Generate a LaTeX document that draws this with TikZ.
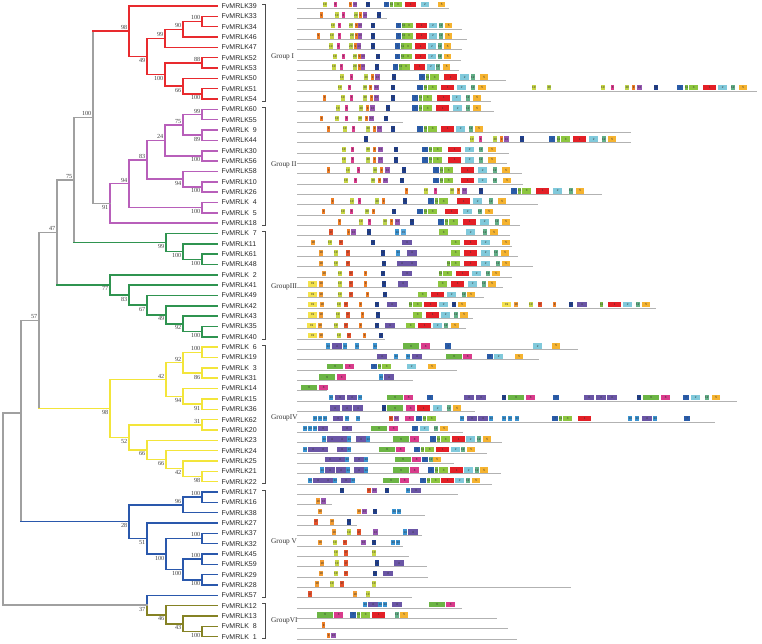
\documentclass[tikz,border=0pt]{standalone}
\usepackage{fontspec}
\setmainfont{Liberation Serif}
\newfontfamily\lsans{Liberation Sans}
\usetikzlibrary{calc}
\definecolor{cI}{HTML}{E82A2E}
\definecolor{cII}{HTML}{B85FBA}
\definecolor{cIII}{HTML}{2F9450}
\definecolor{cIV}{HTML}{F3E53A}
\definecolor{cV}{HTML}{2A58AC}
\definecolor{cVI}{HTML}{858224}
\definecolor{cG}{HTML}{A0A0A0}
\definecolor{mc1}{HTML}{E31F26}
\definecolor{mc2}{HTML}{80C9DB}
\definecolor{mc3}{HTML}{8DC63F}
\definecolor{mc4}{HTML}{6A55A5}
\definecolor{mc5}{HTML}{F5B330}
\definecolor{mc6}{HTML}{6CB545}
\definecolor{mc7}{HTML}{2A5CA9}
\definecolor{mc8}{HTML}{D93B8B}
\definecolor{mc9}{HTML}{EE7D24}
\definecolor{mc10}{HTML}{C7D545}
\definecolor{mc11}{HTML}{7AB843}
\definecolor{mc12}{HTML}{62AE87}
\definecolor{mc13}{HTML}{9556B0}
\definecolor{mc14}{HTML}{3A93D1}
\definecolor{mc15}{HTML}{58A8DC}
\definecolor{mc16}{HTML}{1F3E8C}
\definecolor{mc17}{HTML}{E4502A}
\definecolor{mc18}{HTML}{F29B33}
\definecolor{mc19}{HTML}{F4E24C}
\definecolor{mc20}{HTML}{BCD34C}
\newcommand\defm[4]{\expandafter\def\csname mwX#1\endcsname{#3}\expandafter\def\csname mcX#1\endcsname{#2}\expandafter\def\csname mtX#1\endcsname{#4}}
\defm{1}{mc1}{13}{1}\defm{2}{mc2}{9}{2}\defm{3}{mc3}{9}{3}\defm{4}{mc4}{9.5}{4}
\defm{5}{mc5}{8}{5}\defm{6}{mc6}{16}{6}\defm{7}{mc7}{6}{7}\defm{8}{mc8}{9}{8}
\defm{8s}{mc8}{3}{8}\defm{9}{mc9}{3}{9}\defm{10}{mc10}{3.3}{10}\defm{11}{mc11}{3}{11}
\defm{12}{mc12}{3.3}{12}\defm{13}{mc13}{4.5}{13}\defm{14}{mc14}{4}{14}\defm{15}{mc15}{5}{15}
\defm{16}{mc16}{2.7}{16}\defm{17}{mc17}{3.5}{17}\defm{18}{mc18}{4}{18}\defm{19}{mc19}{9}{19}
\defm{20}{mc20}{4}{20}
% tree node: name, x, upper child, lower child, colour
\newcommand\tn[5]{\path ($(#3)!0.5!(#4)$) coordinate (#1m);
  \coordinate (#1) at (#2,0 |- #1m);
  \draw[br,#5] (#3) -| (#1) |- (#4);}
\newcommand\ba[2]{\node[bs,anchor=south east] (b#1) at ($(#1)+(-1.2,-1)$) {#2};}
\newcommand\bb[2]{\node[bs,anchor=north east] (b#1) at ($(#1)+(-1.2,1.4)$) {#2};}
% motif row: row, line end, width factor, items x/motif
\newcommand\mrow[4]{\pgfmathsetmacro\ry{6+10.34*#1}
  \draw[mline] (297,\ry+2.3) -- (#2,\ry+2.3);
  \foreach \x/\k in {#4}{%
    \edef\mw{\csname mwX\k\endcsname}\edef\mcol{\csname mcX\k\endcsname}\edef\mt{\csname mtX\k\endcsname}%
    \pgfmathsetmacro\w{#3*\mw}%
    \node[mbox,fill=\mcol,minimum width=\w pt,anchor=south west] (m#1-\x) at (\x,\ry+1.7) {\mt};}}
\begin{document}
\begin{tikzpicture}[x=1pt,y=-1pt,
  br/.style={line width=1.5pt,line cap=rect},
  bs/.style={font=\fontsize{6.2}{6.2}\selectfont,inner sep=0.3pt,text=black!75},
  leaf/.style={font=\lsans\fontsize{7}{7}\selectfont,anchor=west,inner sep=0.5pt,text=black!85},
  grp/.style={line width=0.6pt,draw=black!70},
  grpl/.style={font=\fontsize{7.3}{7.3}\selectfont,anchor=west,inner sep=0.5pt,text=black!80},
  mline/.style={line width=0.8pt,draw=black!30},
  mbox/.style={rectangle,draw=none,inner sep=0pt,minimum height=5.5pt,font=\lsans\fontsize{3}{3}\selectfont,text=black!80}]
\useasboundingbox[fill=white] (0,0) rectangle (762,644);
\foreach \i in {0,...,61} \coordinate (l\i) at (217,{6+10.34*\i});
% Group I
\tn{nE}{202}{l1}{l2}{cI}\ba{nE}{100}
\tn{nD}{183}{nE}{l3}{cI}\ba{nD}{90}
\tn{nB}{165}{nD}{l4}{cI}\ba{nB}{99}
\tn{nF}{202}{l5}{l6}{cI}\ba{nF}{88}
\tn{nH}{202}{l8}{l9}{cI}\bb{nH}{100}
\tn{nG}{183}{l7}{nH}{cI}\bb{nG}{66}
\tn{nC}{165}{nF}{nG}{cI}\bb{nC}{100}
\tn{nA}{147}{nB}{nC}{cI}\bb{nA}{49}
\tn{nI}{129}{l0}{nA}{cI}\ba{nI}{98}
% Group II
\tn{q1}{202}{l10}{l11}{cII}\ba{q1}{99}
\tn{q2}{202}{l12}{l13}{cII}\bb{q2}{89}
\tn{q3}{183}{q1}{q2}{cII}\ba{q3}{75}
\tn{q4}{202}{l14}{l15}{cII}\bb{q4}{100}
\tn{q5}{165}{q3}{q4}{cII}\ba{q5}{24}
\tn{q6}{202}{l17}{l18}{cII}\bb{q6}{100}
\tn{q7}{183}{l16}{q6}{cII}\bb{q7}{94}
\tn{q8}{147}{q5}{q7}{cII}\ba{q8}{83}
\tn{q9}{202}{l19}{l20}{cII}\bb{q9}{100}
\tn{q10}{129}{q8}{q9}{cII}\ba{q10}{94}
\tn{nII}{110}{q10}{l21}{cII}\bb{nII}{91}
\tn{n93}{93}{nI}{nII}{cG}\ba{n93}{100}
% Group III
\tn{w1}{202}{l24}{l25}{cIII}\bb{w1}{100}
\tn{w2}{183}{l23}{w1}{cIII}\bb{w2}{100}
\tn{w3}{166}{l22}{w2}{cIII}\bb{w3}{99}
\tn{n74}{74}{n93}{w3}{cG}\ba{n74}{75}
\tn{w4}{202}{l31}{l32}{cIII}\bb{w4}{100}
\tn{w5}{183}{l30}{w4}{cIII}\bb{w5}{92}
\tn{w6}{166}{l29}{w5}{cIII}\bb{w6}{49}
\tn{w7}{147}{l28}{w6}{cIII}\bb{w7}{67}
\tn{w8}{129}{l27}{w7}{cIII}\bb{w8}{83}
\tn{w9}{110}{l26}{w8}{cIII}\bb{w9}{77}
\tn{n57}{57}{n74}{w9}{cG}\ba{n57}{47}
% Group IV
\tn{y1}{202}{l33}{l34}{cIV}\ba{y1}{100}
\tn{y2}{202}{l35}{l36}{cIV}\bb{y2}{86}
\tn{y3}{183}{y1}{y2}{cIV}\ba{y3}{92}
\tn{y4}{202}{l38}{l39}{cIV}\bb{y4}{91}
\tn{y5}{183}{l37}{y4}{cIV}\bb{y5}{94}
\tn{y6}{166}{y3}{y5}{cIV}\ba{y6}{42}
\tn{y7}{202}{l40}{l41}{cIV}\ba{y7}{31}
\tn{y8}{202}{l45}{l46}{cIV}\bb{y8}{98}
\tn{y9}{183}{l44}{y8}{cIV}\bb{y9}{42}
\tn{y10}{166}{l43}{y9}{cIV}\bb{y10}{66}
\tn{y11}{147}{l42}{y10}{cIV}\bb{y11}{66}
\tn{y12}{129}{y7}{y11}{cIV}\bb{y12}{52}
\tn{nIV}{110}{y6}{y12}{cIV}\bb{nIV}{98}
\tn{n39}{39}{n57}{nIV}{cG}\ba{n39}{57}
% Group V
\tn{v1}{202}{l47}{l48}{cV}\ba{v1}{100}
\tn{v2}{183}{v1}{l49}{cV}\ba{v2}{96}
\tn{v3}{202}{l51}{l52}{cV}\ba{v3}{100}
\tn{v4}{202}{l53}{l54}{cV}\ba{v4}{100}
\tn{v5}{202}{l55}{l56}{cV}\bb{v5}{100}
\tn{v6}{183}{v4}{v5}{cV}\bb{v6}{100}
\tn{v7}{166}{v3}{v6}{cV}\bb{v7}{100}
\tn{v8}{147}{l50}{v7}{cV}\bb{v8}{51}
\tn{nV}{129}{v2}{v8}{cV}\bb{nV}{28}
\coordinate (n21) at (21,413);
\draw[br,cG] (n39) -| (n21) |- (nV);
% Group VI
\tn{s1}{202}{l60}{l61}{cVI}\bb{s1}{100}
\tn{s2}{183}{l59}{s1}{cVI}\bb{s2}{43}
\tn{s3}{166}{l58}{s2}{cVI}\bb{s3}{46}
\path ($(l57)!0.5!(s3)$) coordinate (n37m);
\coordinate (n37) at (147,0 |- n37m);
\draw[br,cV] (l57) -| (n37);
\draw[br,cVI] (n37) |- (s3);
\bb{n37}{37}
\path ($(n21)!0.5!(n37)$) coordinate (rootm);
\coordinate (root) at (3,0 |- rootm);
\draw[br,cG] (n21) -| (root) |- (n37);
% coloured stems of the groups
\draw[br,cI] (n93 |- nI) -- (nI);
\draw[br,cIII] (n74 |- w3) -- (w3);
\draw[br,cIII] (n57 |- w9) -- (w9);
\draw[br,cIV] (n39 |- nIV) -- (nIV);
\draw[br,cV] (n21 |- nV) -- (nV);
% leaf labels
\foreach \n [count=\i from 0] in {39,33,34,46,47,52,53,50,51,54,60,55,\phantom{0}9,44,30,56,58,10,26,\phantom{0}4,\phantom{0}5,18,\phantom{0}7,11,61,48,\phantom{0}2,41,49,42,43,35,40,\phantom{0}6,19,\phantom{0}3,31,14,15,36,62,20,23,24,25,21,22,17,16,38,27,37,32,45,59,29,28,57,12,13,\phantom{0}8,\phantom{0}1}
  \node[leaf] (t\i) at ($(l\i)+(4,0)$) {FvMRLK\n};
% group brackets
\foreach \a/\b/\yl/\g [count=\j] in {0/9/57/Group I,10/21/165/Group II,22/32/287/GroupIII,33/46/418/GroupIV,47/57/542/Group V,58/61/621/GroupVI}{
  \draw[grp] ($(l\a)+(45,-2)$) -- ($(l\a)+(48,-2)$) -- ($(l\b)+(48,2)$) -- ($(l\b)+(45,2)$);
  \node[grpl] (g\j) at (270.5,\yl) {\g};}
% motifs
\mrow{0}{449}{.85}{323/10,334/8s,349/9,353/13,366/16,384/7,390/11,394/3,405/1,421/2,438/5}
\mrow{1}{387}{.85}{320/9,335/10,342/8s,354/20,359/9,363/13,377/16}
\mrow{2}{462}{.85}{331/10,338/8s,349/20,355/9,358/13,371/16,396/7,402/11,405/3,416/1,429/2,439/12,445/5}
\mrow{3}{467}{.85}{317/9,330/10,338/8s,350/20,355/9,358/13,371/16,396/7,402/11,405/3,416/1,429/2,439/12,445/5}
\mrow{4}{462}{.85}{329/10,337/8s,349/20,354/9,357/13,371/16,395/7,401/11,404/3,415/1,428/2,438/12,444/5}
\mrow{5}{461}{.85}{333/10,342/8s,353/20,358/9,361/13,376/16,395/7,401/11,404/3,415/1,428/2,438/12,444/5}
\mrow{6}{459}{.85}{332/10,340/8s,353/20,358/9,361/13,375/16,393/7,399/11,402/3,414/1,427/2,436/12,443/5}
\mrow{7}{506}{1}{340/10,350/8s,364/20,371/9,375/13,392/16,419/7,426/11,430/3,444/1,460/2,471/12,480/5}
\mrow{8}{757}{1}{338/10,348/8s,363/20,369/9,374/13,391/16,417/7,424/11,428/3,441/1,457/2,471/12,478/5,532/10,547/20,601/10,611/8s,625/20,632/9,637/13,654/16,677/7,685/11,689/3,703/1,718/2,731/12,739/5}
\mrow{9}{491}{1}{323/9,341/10,350/8s,363/20,370/9,374/13,391/16,412/7,419/11,423/3,437/1,452/2,466/12,473/5}
\mrow{10}{494}{1}{336/10,345/8s,359/20,366/9,370/13,386/16,412/7,419/11,423/3,436/1,453/2,466/12,473/5}
\mrow{11}{403}{1}{320/9,335/10,345/8s,358/20,365/9,369/13,384/16}
\mrow{12}{631}{1}{327/9,343/10,352/8s,366/20,373/9,377/13,391/16,417/7,424/11,428/3,441/1,456/2,469/12,475/5}
\mrow{13}{631}{1}{364/16,470/10,479/8s,493/20,500/9,504/13,520/16,549/7,557/11,561/3,573/1,589/2,602/12,608/5}
\mrow{14}{509}{1}{342/10,351/8s,366/20,373/9,378/13,394/16,422/7,429/11,433/3,448/1,465/2,479/12,488/5}
\mrow{15}{507}{1}{342/10,351/8s,366/20,373/9,378/13,394/16,422/7,429/11,433/3,448/1,465/2,479/12,488/5}
\mrow{16}{522}{1}{327/9,346/10,357/8s,373/20,380/9,385/13,402/16,433/7,440/11,444/3,461/1,478/2,493/12,502/5}
\mrow{17}{523}{1}{344/10,354/8s,371/20,378/9,383/13,400/16,433/7,440/11,444/3,461/1,478/2,493/12,503/5}
\mrow{18}{602}{1}{405/9,424/10,434/8s,450/20,457/9,462/13,479/16,511/7,518/11,522/3,536/1,553/2,569/12,576/5}
\mrow{19}{538}{1}{331/9,350/10,358/8s,375/20,382/9,403/16,428/7,435/11,439/3,457/1,473/2,489/12,498/5}
\mrow{20}{510}{1}{322/9,341/10,350/8s,365/20,372/9,392/16,417/7,424/11,428/3,445/1,463/2,478/12,485/5}
\mrow{21}{520}{1}{338/9,359/10,368/8s,383/20,390/9,395/13,410/16,438/7,445/11,449/3,463/1,480/2,495/12,502/5}
\mrow{22}{510}{1}{329/17,347/9,351/13,367/16,395/14,401/15,439/3,466/2,483/12,490/5}
\mrow{23}{512}{1}{311/18,328/10,339/17,371/16,402/4,451/3,464/1,481/2,502/5}
\mrow{24}{518}{1}{319/18,334/10,346/17,381/16,396/14,407/4,451/3,464/1,481/2,494/12,501/5}
\mrow{25}{533}{1}{319/18,334/10,346/17,382/16,397/4,407/4,447/11,451/3,464/1,481/2,496/12,502/5}
\mrow{26}{512}{1}{322/18,338/10,349/17,364/9,381/16,402/4,439/11,443/3,456/1,472/2,486/12,492/5}
\mrow{27}{503}{1}{308/19,319/18,338/10,349/17,364/9,382/16,398/4,438/3,451/1,468/2,482/12,488/5}
\mrow{28}{484}{1}{308/19,319/18,338/10,349/17,366/9,383/16,418/3,431/1,447/2,462/12,467/5}
\mrow{29}{656}{1}{308/19,320/18,337/10,344/17,359/9,375/16,387/4,409/11,413/3,424/1,439/2,452/16,458/5,502/19,514/18,529/10,538/17,553/9,569/16,577/4,600/11,608/1,623/2,636/12,642/5}
\mrow{30}{473}{1}{308/19,319/18,336/10,346/17,361/9,376/16,413/3,426/1,441/2,454/12,460/5}
\mrow{31}{466}{1}{307/19,318/18,334/10,344/17,359/9,375/16,385/4,406/3,418/1,433/2,444/12,451/5}
\mrow{32}{385}{1}{308/19,319/18,337/10,347/17,363/9,379/16}
\mrow{33}{578}{1}{326/14,332/4,343/14,355/14,373/14,403/6,421/8,445/7,533/2,552/5}
\mrow{34}{539}{1}{377/4,394/14,406/14,412/4,446/6,463/8,487/7,494/2,515/5}
\mrow{35}{457}{1}{327/6,345/8,371/7,378/11,382/3,407/2,428/5}
\mrow{36}{413}{1}{319/6,337/8,379/14,384/4}
\mrow{37}{327}{1}{301/6,319/8}
\mrow{38}{737}{1}{329/14,335/4,347/4,358/14,387/6,404/8,427/7,464/4,476/4,502/16,508/6,526/8,553/7,584/4,596/4,607/4,637/16,643/6,661/8,683/7,691/2,705/12,712/5}
\mrow{39}{475}{1}{330/4,342/4,353/4,382/16,387/6,406/8,417/1,433/2,447/12,453/5}
\mrow{40}{715}{1}{313/14,318/14,323/14,333/4,345/14,356/14,389/17,394/13,405/8,416/7,423/11,427/3,460/14,467/4,478/4,489/14,502/14,508/14,515/14,552/7,559/11,563/3,578/1,628/14,635/14,642/4,653/14,684/7}
\mrow{41}{463}{1}{303/14,308/14,313/14,318/4,342/4,371/6,389/8,412/7,420/2,434/12,440/5}
\mrow{42}{502}{1}{322/14,327/4,337/4,347/14,356/4,366/14,393/6,410/8,430/7,437/11,441/3,452/1,466/2,477/12,483/5}
\mrow{43}{487}{1}{303/14,308/4,318/4,337/4,347/14,379/6,396/8,414/7,421/11,425/3,436/1,451/2,461/12,467/5}
\mrow{44}{454}{1}{325/4,335/4,345/14,354/4,364/14,395/6,412/8,422/7,429/12,433/5}
\mrow{45}{501}{1}{320/14,325/4,336/4,346/14,354/4,364/14,393/6,410/8,428/7,435/11,439/3,450/1,464/2,475/12,480/5}
\mrow{46}{492}{1}{308/14,313/4,323/4,333/14,341/4,351/14,383/6,400/8,420/7,427/11,431/3,441/1,455/2,466/12,472/5}
\mrow{47}{458}{1}{340/16,367/17,372/13,385/16,406/14,411/4}
\mrow{48}{332}{1}{316/18,321/13}
\mrow{49}{425}{1}{318/18,357/18,362/13,373/16,392/14,397/14}
\mrow{50}{357}{1}{314/17,330/18,347/16}
\mrow{51}{422}{1}{332/18,347/10,357/17,373/13,403/14,408/4}
\mrow{52}{403}{1}{318/18,333/10,343/17,361/13,372/16,391/14,396/14}
\mrow{53}{409}{1}{334/10,344/17,372/10}
\mrow{54}{427}{1}{320/18,335/10,344/17,375/16,394/4}
\mrow{55}{428}{1}{319/18,334/10,344/17,373/16,383/4}
\mrow{56}{571}{1}{315/18,330/10,340/17,372/10}
\mrow{57}{412}{1}{308/17,353/18,366/10}
\mrow{58}{462}{1}{363/14,368/4,378/14,383/14,392/4,429/6,446/8}
\mrow{59}{497}{1}{317/6,334/8,350/7,357/11,361/3,372/1,395/12,400/5}
\mrow{60}{508}{1}{322/9}
\mrow{61}{517}{1}{327/9,331/13}
\end{tikzpicture}
\end{document}
